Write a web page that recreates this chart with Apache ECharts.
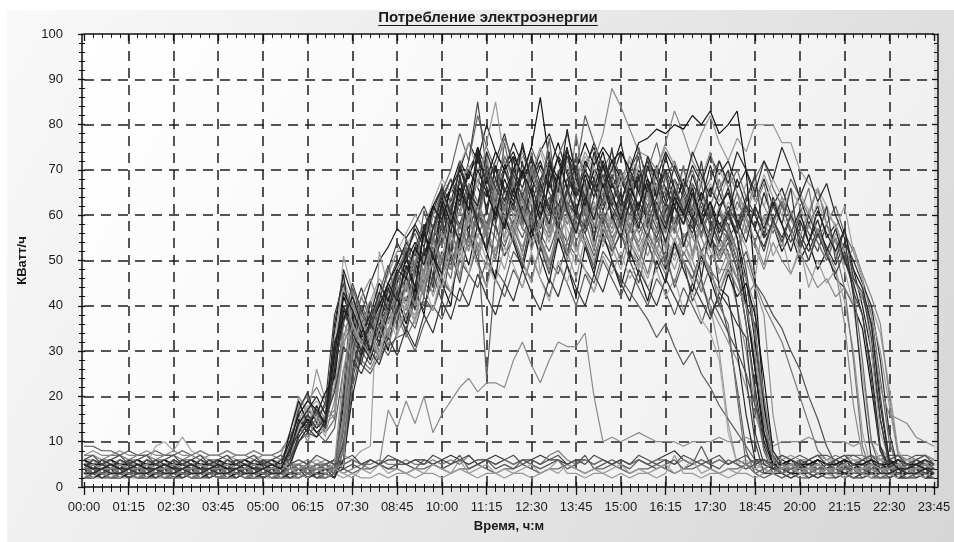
<!DOCTYPE html>
<html><head><meta charset="utf-8">
<script src="https://cdn.jsdelivr.net/npm/echarts/dist/echarts.min.js"></script>
<style>html,body{margin:0;padding:0;background:#fff}#c{width:954px;height:542px}</style>
</head><body><div id="c"></div>
<script>
const chartTitle = 'Потребление электроэнергии';
const xName = 'Время, ч:м';
const yName = 'КВатт/ч';
const timeLabels = ['00:00','00:15','00:30','00:45','01:00','01:15','01:30','01:45','02:00','02:15','02:30','02:45',
'03:00','03:15','03:30','03:45','04:00','04:15','04:30','04:45','05:00','05:15','05:30','05:45',
'06:00','06:15','06:30','06:45','07:00','07:15','07:30','07:45','08:00','08:15','08:30','08:45',
'09:00','09:15','09:30','09:45','10:00','10:15','10:30','10:45','11:00','11:15','11:30','11:45',
'12:00','12:15','12:30','12:45','13:00','13:15','13:30','13:45','14:00','14:15','14:30','14:45',
'15:00','15:15','15:30','15:45','16:00','16:15','16:30','16:45','17:00','17:15','17:30','17:45',
'18:00','18:15','18:30','18:45','19:00','19:15','19:30','19:45','20:00','20:15','20:30','20:45',
'21:00','21:15','21:30','21:45','22:00','22:15','22:30','22:45','23:00','23:15','23:30','23:45'];
const yMin = 0, yMax = 100, yStep = 10;

const s01 = [5,4,5,4,4,5,4,5,4,4,5,4, 4,5,4,4,5,4,4,5,4,4,5,6, 14,17,15,13,30,42,38,33,36,40,44,47, 44,48,52,55,60,58,64,70,66,62,68,72, 65,70,63,68,72,66,61,69,64,70,67,62, 68,63,70,65,60,66,62,58,64,60,55,52, 55,48,36,22,9,4,3,4,3,4,3,4, 4,3,4,3,4,5,4,3,4,4,3,4];
const s02 = [3,3,4,3,3,4,3,3,4,3,3,4, 3,4,3,3,4,3,3,4,3,3,4,3, 3,4,3,4,3,14,30,40,36,34,38,45, 50,47,56,62,58,66,72,68,75,70,64,71, 74,68,72,65,70,76,69,64,72,68,74,66, 70,64,68,72,66,70,62,68,64,60,66,62, 65,58,62,60,55,58,52,56,50,54,48,52, 46,44,40,35,22,8,4,3,4,3,4,3];
const s03 = [6,6,5,6,7,6,6,5,6,6,5,6, 6,5,6,6,5,6,6,5,6,6,5,9, 18,20,16,15,22,44,40,35,32,38,42,40, 42,40,47,52,49,55,61,57,63,68,60,65, 60,66,58,62,70,64,58,61,67,60,63,58, 64,59,62,66,58,62,57,60,55,58,52,48, 48,40,30,18,8,5,5,6,5,5,6,5, 6,5,6,5,6,5,5,6,5,6,5,6];
const s04 = [2,3,2,2,3,2,3,2,2,3,2,2, 3,2,2,3,2,2,3,2,2,3,2,2, 2,3,2,3,2,8,24,31,35,30,34,38, 35,41,45,43,50,48,55,60,57,53,61,58, 63,57,55,60,64,58,52,59,62,56,60,55, 58,62,56,60,54,58,62,55,58,52,56,50, 54,48,52,45,42,38,35,30,26,20,15,9, 5,3,2,3,2,2,3,2,2,3,2,2];
const s05 = [4,5,4,4,5,4,5,4,4,5,4,4, 5,4,4,5,4,4,5,4,4,5,4,7, 12,15,13,16,34,48,42,38,45,50,53,57, 55,58,54,62,66,63,70,76,72,80,74,70, 76,71,68,74,78,72,66,73,70,76,71,68, 74,70,66,72,68,74,70,65,71,67,73,69, 72,66,70,63,68,62,66,60,64,58,62,55, 58,52,48,40,30,15,5,4,5,4,4,5];
const s06 = [5,4,5,5,4,5,5,4,5,5,4,5, 5,4,5,5,4,5,5,4,5,5,4,5, 5,4,5,4,6,12,28,35,30,28,33,37, 40,38,44,49,46,53,58,55,50,57,62,59, 55,60,64,58,54,61,57,52,59,63,56,60, 55,58,52,56,60,54,50,55,48,44,40,30, 14,5,4,5,4,5,4,5,5,4,5,4, 5,4,5,4,5,5,4,5,4,5,5,4];
const s07 = [3,4,3,3,4,3,4,3,3,4,3,3, 4,3,3,4,3,3,4,3,3,4,3,5, 10,12,11,13,25,38,35,32,30,34,37,40, 38,42,40,46,52,49,56,54,60,58,64,61, 58,65,62,57,63,68,60,56,62,66,59,63, 60,64,58,62,67,60,56,63,59,65,60,57, 62,58,64,60,56,62,58,54,60,56,52,58, 54,50,46,42,36,20,6,4,3,4,3,4];
const s08 = [4,3,4,4,3,4,4,3,4,4,3,4, 4,3,4,4,3,4,4,3,4,4,3,4, 4,3,4,3,4,20,38,44,38,33,38,42, 48,52,57,60,64,68,62,70,74,67,72,78, 70,74,68,72,66,73,70,64,71,75,68,72, 66,70,74,68,64,70,66,61,67,63,58,60, 58,52,40,26,12,4,4,3,4,4,3,4, 3,4,4,3,4,3,4,4,3,4,3,4];
const s09 = [7,7,6,7,7,6,7,7,6,7,7,6, 7,6,7,7,6,7,7,6,7,7,6,10, 16,19,22,18,15,32,36,28,26,30,35,38, 33,37,41,39,45,43,50,47,53,56,51,58, 54,50,57,53,48,55,51,57,53,49,55,52, 56,52,49,55,51,47,53,50,46,52,48,45, 50,46,42,45,40,36,32,26,20,14,8,6, 7,6,7,7,6,7,6,7,7,6,7,6];
const s10 = [3,2,3,3,2,3,3,2,3,3,2,3, 3,2,3,3,2,3,3,2,3,3,2,3, 3,2,3,2,3,10,30,40,36,42,47,52, 52,56,50,60,65,70,78,72,82,75,70,77, 72,68,75,70,66,73,78,70,82,76,70,74, 68,72,66,70,76,68,72,66,70,64,68,72, 66,70,64,68,72,66,62,68,64,60,66,58, 62,56,52,46,38,24,10,4,3,3,2,3];
const s11 = [2,3,3,2,3,3,2,3,3,2,3,3, 2,3,3,2,3,3,2,3,3,2,3,4, 11,14,12,10,13,26,30,27,25,29,31,33, 34,30,36,40,37,43,41,47,44,50,46,42, 48,44,51,46,42,49,45,40,47,43,50,46, 42,48,44,40,46,43,38,44,40,36,42,38, 34,22,8,3,2,3,3,2,3,3,2,3, 3,2,3,3,2,3,3,2,3,3,2,3];
const s12 = [5,6,5,5,6,5,6,5,5,6,5,5, 6,5,5,6,5,5,6,5,5,6,5,5, 6,5,6,5,6,7,6,8,9,52,44,40, 44,41,48,54,51,58,55,62,59,66,63,60, 66,62,58,65,61,67,63,59,65,61,68,64, 60,66,62,58,64,60,66,62,58,64,61,57, 63,60,56,62,58,64,60,56,52,58,54,50, 56,52,48,44,40,34,22,8,5,6,5,5];
const s13 = [5,5,4,5,5,4,5,5,4,5,5,4, 5,4,5,5,4,5,5,4,5,5,4,6, 15,13,17,14,28,40,36,32,30,34,39,43, 46,43,51,55,58,62,66,60,68,64,70,66, 62,69,65,71,67,62,68,64,70,66,61,67, 63,69,65,60,66,62,68,64,59,65,61,58, 60,55,46,32,16,6,4,5,4,5,5,4, 5,4,5,5,4,5,5,4,5,5,4,5];
const s14 = [4,4,5,4,4,5,4,4,5,4,4,5, 4,4,5,4,4,5,4,4,5,4,4,5, 4,5,4,5,4,15,34,42,46,40,44,48, 52,49,55,58,53,60,57,63,60,56,62,59, 55,61,57,63,59,54,60,56,62,58,53,59, 55,60,56,51,57,53,48,54,50,45,40,36, 32,28,22,16,10,6,4,5,4,4,5,4, 4,5,4,4,5,4,4,5,4,4,5,4];
const s15 = [3,4,3,3,4,3,4,3,3,4,3,3, 4,3,3,4,3,3,4,3,3,4,3,3, 4,3,4,3,4,3,4,5,4,5,17,13, 19,14,20,12,16,19,22,24,21,23,23,22, 28,32,27,23,28,32,31,31,34,20,10,11, 10,11,12,11,10,10,10,9,10,10,10,11, 10,10,11,10,10,9,10,10,10,11,10,10, 10,10,9,10,10,9,6,4,3,4,3,4];
const s16 = [4,4,3,4,4,3,4,4,3,4,4,3, 4,4,3,4,4,3,4,4,3,4,4,3, 4,3,4,4,5,4,3,4,4,5,4,4, 3,4,4,5,4,3,4,4,5,4,3,4, 4,5,4,3,4,4,5,4,3,4,4,5, 4,3,4,4,5,4,3,4,4,5,4,3, 4,4,5,4,3,4,4,5,4,3,4,4, 5,4,3,4,4,5,4,3,4,4,3,4];
const s17 = [2,2,3,2,2,3,2,2,3,2,2,3, 2,2,3,2,2,3,2,2,3,2,2,3, 3,4,5,5,6,5,6,5,6,5,6,6, 5,6,6,5,6,7,6,5,6,6,7,6, 5,6,6,7,6,6,5,6,6,5,6,5, 6,5,6,5,6,7,8,6,5,6,5,6, 5,6,5,6,5,6,5,5,6,5,6,5, 5,6,5,4,3,2,3,2,2,3,2,2];
const s18 = [2,2,2,3,2,2,2,3,2,2,2,3, 2,2,3,2,2,2,3,2,2,2,3,2, 2,3,2,2,3,2,3,2,2,3,2,3, 3,2,3,3,2,3,6,3,2,3,3,2, 3,3,2,3,4,6,3,3,2,3,3,2, 3,2,3,3,2,3,7,3,3,2,3,3, 2,3,3,2,3,3,2,3,3,2,3,3, 2,3,2,2,3,2,2,3,2,2,3,2];
const s19 = [9,9,8,8,7,8,7,7,8,7,7,8, 7,8,7,7,8,7,7,8,7,7,8,11, 16,13,15,18,32,39,34,30,33,37,41,39, 45,42,48,53,50,56,52,59,55,61,57,53, 59,55,61,56,52,58,54,60,56,51,57,53, 59,54,50,56,52,48,54,50,46,52,47,43, 48,44,40,36,14,6,7,6,7,6,7,7, 6,7,7,6,7,6,7,7,6,7,7,6];
const s20 = [6,5,6,6,5,6,6,5,9,10,8,11, 8,7,6,6,5,6,6,5,6,6,5,8, 20,17,19,16,28,51,43,36,40,45,42,47, 45,50,47,55,60,57,64,61,68,73,65,70, 67,63,70,74,68,64,71,67,73,69,64,70, 66,72,68,63,69,65,71,67,62,68,64,70, 66,61,67,63,69,64,60,66,62,57,63,58, 54,48,40,25,10,6,5,6,6,5,6,5];
const s21 = [4,5,5,4,5,5,4,5,5,4,5,5, 4,5,5,4,5,5,4,5,5,4,5,8, 17,14,18,15,28,40,35,30,33,38,36,42, 39,45,43,50,47,54,58,52,60,56,63,58, 62,57,64,59,55,62,58,64,60,55,61,57, 63,58,54,60,56,62,57,53,59,55,50,54, 50,46,40,28,14,6,5,5,4,5,5,4, 5,5,4,5,5,4,5,5,4,5,5,4];
const s22 = [3,3,2,3,3,2,3,3,2,3,3,2, 3,3,2,3,3,2,3,3,2,3,3,2, 3,2,3,3,2,12,30,36,31,29,34,40, 44,48,45,52,56,61,57,65,62,68,63,70, 66,61,67,72,65,60,66,71,64,68,62,67, 63,68,60,65,70,63,58,64,60,56,61,55, 52,40,24,10,3,3,3,2,3,3,2,3, 3,3,2,3,3,2,3,3,2,3,3,2];
const s23 = [6,7,6,6,7,6,6,7,6,6,7,6, 6,7,6,6,7,6,6,7,6,6,7,12, 20,16,26,19,22,34,31,28,32,30,35,39, 36,42,47,44,51,48,55,60,53,58,55,62, 57,63,59,54,61,57,65,60,56,62,58,54, 60,56,61,57,52,58,54,60,55,51,57,53, 56,50,46,40,20,7,6,7,6,6,7,6, 6,7,6,6,7,6,6,7,6,6,7,6];
const s24 = [5,4,4,5,4,4,5,4,4,5,4,4, 5,4,4,5,4,4,5,4,4,5,4,4, 5,4,4,5,4,18,38,33,36,41,38,45, 50,54,51,57,62,66,63,69,73,67,71,65, 70,75,68,64,71,67,73,69,63,70,66,72, 68,63,69,65,71,66,62,68,64,59,63,58, 56,50,40,26,10,5,4,4,5,4,4,5, 4,4,5,4,4,5,4,4,5,4,4,5];
const s25 = [3,4,4,3,4,4,3,4,4,3,4,4, 3,4,4,3,4,4,3,4,4,3,4,6, 13,11,14,12,15,38,42,37,34,39,43,48, 52,49,55,60,57,64,61,67,63,58,65,61, 67,63,58,64,60,66,62,57,63,59,65,61, 57,63,59,65,61,56,62,58,64,60,55,61, 57,63,59,54,60,56,62,57,53,58,54,50, 55,50,44,28,10,4,3,4,4,3,4,4];
const s26 = [4,3,3,4,3,3,4,3,3,4,3,3, 4,3,3,4,3,3,4,3,3,4,3,3, 4,3,3,4,3,4,26,34,30,36,40,44, 41,47,52,49,55,61,58,64,60,57,63,60, 56,62,59,65,61,57,63,60,56,62,58,64, 61,57,63,59,55,61,64,60,56,62,58,54, 60,56,61,57,53,59,55,60,56,52,57,53, 49,54,50,45,40,28,12,4,3,4,3,3];
const s27 = [5,5,6,5,5,6,5,5,6,5,5,6, 5,5,6,5,5,6,5,5,6,5,5,7, 15,18,14,16,24,46,40,35,38,42,47,52, 56,60,57,63,68,65,71,76,70,74,68,72, 69,74,70,66,72,68,74,70,65,71,67,63, 69,65,71,67,62,68,64,70,66,61,67,63, 69,65,60,66,62,68,64,59,65,61,66,62, 57,62,52,46,30,12,6,5,6,5,5,6];
const s28 = [2,2,3,2,2,3,2,2,3,2,2,3, 2,2,3,2,2,3,2,2,3,2,2,3, 2,3,2,2,3,6,22,30,27,32,29,34, 38,35,42,39,46,43,50,47,54,24,48,45, 52,49,46,53,50,47,54,51,48,45,52,49, 46,43,40,37,33,36,31,27,30,25,22,18, 15,12,9,6,4,3,2,3,2,2,3,2, 2,3,2,2,3,2,2,3,2,2,3,2];
const s29 = [7,8,7,7,8,7,7,8,7,7,8,7, 7,8,7,7,8,7,7,8,7,7,8,10, 14,16,13,15,17,36,33,29,35,38,34,40, 44,40,46,51,48,54,50,56,52,58,55,51, 57,53,59,55,50,56,52,58,54,49,55,51, 57,53,58,54,49,55,51,56,52,58,54,50, 56,52,57,53,48,54,50,47,52,48,44,46, 42,44,40,42,35,22,16,15,14,11,10,9];
const s30 = [5,5,4,5,5,4,5,5,4,5,5,4, 5,4,5,5,4,5,5,4,5,5,4,5, 5,4,5,5,4,5,6,5,5,6,5,5, 6,5,5,6,5,6,5,7,5,6,5,6, 5,6,6,5,7,8,6,5,6,5,6,5, 6,5,6,5,6,6,5,6,5,6,5,6, 5,6,5,6,5,6,5,6,5,5,6,5, 5,6,5,5,6,5,5,4,5,5,4,5];
const s31 = [4,4,3,4,4,3,4,4,3,4,4,3, 4,4,3,4,4,3,4,4,3,4,4,3, 4,4,3,4,4,10,34,39,35,40,45,50, 47,53,58,55,63,68,64,72,85,70,66,73, 69,64,71,66,62,68,73,66,61,67,63,69, 64,60,66,62,57,63,59,65,60,56,62,57, 55,58,48,34,18,6,3,4,4,3,4,4, 3,4,4,3,4,4,3,4,4,3,4,4];
const s32 = [6,5,5,6,5,5,6,5,5,6,5,5, 6,5,5,6,5,5,6,5,5,6,5,9, 18,15,17,14,16,30,44,38,41,46,43,49, 53,57,54,60,64,61,67,71,66,76,85,72, 68,73,69,75,70,66,72,68,74,70,65,71, 67,73,69,64,70,75,71,67,73,78,82,76, 72,77,74,80,80,80,76,76,70,67,65,60, 58,52,46,42,38,30,18,7,5,6,5,5];
const s33 = [5,6,5,5,6,5,5,6,5,5,6,5, 5,6,5,5,6,5,5,6,5,5,6,5, 5,6,5,6,5,14,28,35,40,37,43,47, 44,50,55,52,58,63,60,66,62,69,65,61, 67,63,58,64,70,66,61,67,63,72,78,88, 84,79,74,73,70,76,83,78,72,68,74,66, 70,65,61,67,62,58,64,59,55,61,56,52, 48,36,18,7,5,6,5,5,6,5,5,6];
const s34 = [3,3,4,3,3,4,3,3,4,3,3,4, 3,3,4,3,3,4,3,3,4,3,3,5, 12,15,12,14,26,42,37,33,36,40,45,49, 54,51,57,62,59,66,70,65,72,68,74,70, 73,69,75,86,72,68,74,70,76,71,75,72, 74,70,76,77,79,78,80,79,82,80,83,78, 80,83,70,45,18,5,4,3,3,4,3,3, 4,3,3,4,3,3,4,3,3,4,3,3];
const s35 = [4,6,5,4,6,5,4,6,5,4,6,5, 4,6,5,4,6,5,4,6,5,4,6,7, 15,12,18,13,36,47,33,29,41,35,44,38, 52,41,58,46,63,51,69,55,74,60,71,57, 73,58,66,52,70,56,75,61,68,54,72,59, 65,50,69,57,62,48,66,53,60,46,58,44, 42,30,16,6,6,5,4,6,5,4,6,5, 4,6,5,4,6,5,4,6,5,4,6,5];
const s36 = [3,5,4,3,5,4,3,5,4,3,5,4, 3,5,4,3,5,4,3,5,4,3,5,4, 3,5,4,3,5,16,41,35,28,39,33,45, 37,49,42,56,47,61,53,67,58,72,64,55, 68,60,74,63,57,70,62,78,66,59,71,64, 58,69,61,73,65,56,68,60,64,55,62,51, 57,50,46,34,20,7,3,5,4,3,5,4, 3,5,4,3,5,4,3,5,4,3,5,4];
const s37 = [5,3,4,5,3,4,5,3,4,5,3,4, 5,3,4,5,3,4,5,3,4,5,3,9, 17,21,14,19,38,45,31,27,37,31,42,36, 47,39,53,44,59,50,65,57,62,70,58,66, 61,72,56,67,74,59,65,71,57,68,63,75, 60,67,73,58,64,70,56,66,61,72,59,65, 70,57,63,69,55,64,58,66,52,60,55,62, 50,57,46,43,33,15,5,3,4,5,3,4];
const s38 = [2,4,3,2,4,3,2,4,3,2,4,3, 2,4,3,2,4,3,2,4,3,2,4,3, 2,4,3,2,4,11,27,38,33,29,40,34, 45,36,51,42,48,57,46,62,53,48,66,55, 60,51,64,47,58,68,54,49,62,57,69,52, 63,55,48,61,67,52,59,64,50,58,54,62, 49,57,53,46,60,51,55,47,53,44,50,45, 48,41,30,12,4,3,2,4,3,2,4,3];
const s39 = [6,4,5,6,4,5,6,4,5,6,4,5, 6,4,5,6,4,5,6,4,5,6,4,12, 19,14,16,21,24,39,37,32,28,36,30,42, 36,44,38,51,45,40,55,49,58,52,46,60, 54,48,57,51,45,55,49,42,53,47,56,50, 44,52,47,41,50,45,54,48,43,51,46,40, 47,42,45,38,24,8,5,6,4,5,6,4, 5,6,4,5,6,4,5,6,4,5,6,4];
const s40 = [4,3,5,4,3,5,4,3,5,4,3,5, 4,3,5,4,3,5,4,3,5,4,3,5, 4,3,5,4,3,22,44,38,35,43,49,41, 55,48,61,54,67,59,72,64,57,70,62,76, 66,59,71,64,77,61,68,73,60,66,72,63, 70,62,75,66,59,69,63,71,60,67,57,61, 55,48,36,20,8,3,5,4,3,5,4,3, 5,4,3,5,4,3,5,4,3,5,4,3];
const s41 = [3,5,6,3,5,6,3,5,6,3,5,6, 3,5,6,3,5,6,3,5,6,3,5,6, 14,10,16,12,19,33,40,30,34,28,38,44, 40,47,43,50,56,48,53,60,51,57,63,54, 58,64,52,59,55,62,50,57,63,53,60,56, 61,54,58,65,52,60,56,63,51,59,55,62, 57,52,60,54,49,58,53,61,55,50,57,52, 55,49,53,47,42,36,20,7,4,5,6,3];
const s42 = [3,4,2,3,4,2,3,4,2,3,4,2, 3,4,2,3,4,2,3,4,2,3,4,2, 3,4,2,3,4,9,25,33,29,36,31,40, 34,43,39,47,41,52,45,56,50,44,58,51, 55,49,60,53,47,57,51,62,54,48,59,52, 56,50,45,54,48,52,44,50,41,46,38,42, 34,30,25,18,12,7,4,3,4,2,3,4, 2,3,4,2,3,4,2,3,4,2,3,4];
const s43 = [5,6,4,5,6,4,5,6,4,5,6,4, 5,6,4,5,6,4,5,6,4,5,6,5, 13,18,15,11,33,44,36,31,35,29,37,33, 41,36,45,39,48,43,52,47,56,50,45,53, 49,44,52,46,41,50,45,53,48,43,51,47, 52,46,50,44,48,42,46,39,43,37,34,28, 12,5,6,4,5,6,4,5,6,4,5,6, 4,5,6,4,5,6,4,5,6,4,5,6];
const s44 = [4,2,3,4,2,3,4,2,3,4,2,3, 4,2,3,4,2,3,4,2,3,4,2,3, 4,2,3,4,2,6,20,29,36,32,38,47, 51,44,57,50,63,56,68,61,75,66,59,70, 64,76,67,60,72,65,79,68,62,74,66,70, 76,67,61,71,64,73,66,60,69,63,71,65, 60,68,62,57,65,59,63,56,61,54,59,52, 57,50,45,38,26,9,4,2,3,4,2,3];
const s45 = [4,5,3,4,5,3,4,5,3,4,5,3, 4,5,3,4,5,3,4,5,3,4,5,3, 4,5,4,5,6,4,5,4,6,5,4,5, 5,4,6,5,4,5,7,4,5,6,4,5, 4,6,5,4,5,6,4,5,7,4,5,6, 5,4,6,5,4,5,6,4,5,9,5,4, 6,5,4,5,6,4,5,4,6,5,4,5, 4,5,3,4,5,3,4,5,3,4,5,3];
const s46 = [3,2,4,3,2,4,3,2,4,3,2,4, 3,2,4,3,2,4,3,2,4,3,2,4, 3,2,4,3,4,3,2,4,3,5,3,4, 3,4,3,5,4,3,4,3,4,5,3,4, 3,4,5,3,4,3,5,4,3,4,3,4, 5,3,4,3,4,5,3,4,6,3,4,3, 4,3,5,3,4,3,4,5,3,4,3,4, 3,2,4,3,2,4,3,2,4,3,2,4];
const s47 = [5,4,6,5,4,6,5,4,6,5,4,6, 5,4,6,5,4,6,5,4,6,5,4,8, 12,16,13,15,21,31,28,25,30,27,33,29, 35,31,38,34,41,37,44,40,47,42,38,45, 41,48,43,39,46,42,49,44,40,47,43,50, 45,41,48,44,40,46,42,38,45,41,37,43, 40,36,33,12,5,4,6,5,4,6,5,4, 6,5,4,6,5,4,6,5,4,6,5,4];
const s48 = [2,3,3,2,3,3,2,3,3,2,3,3, 2,3,3,2,3,3,2,3,3,2,3,3, 2,3,3,2,3,13,35,42,37,33,41,46, 43,52,47,58,53,62,57,66,60,55,68,61, 65,58,70,62,56,67,60,64,71,57,63,68, 62,57,66,60,70,58,64,61,67,55,62,68, 59,65,57,62,67,58,63,56,60,66,55,58, 52,44,28,9,3,2,3,3,2,3,3,2];
const s49 = [6,5,5,6,5,5,6,5,5,6,5,5, 6,5,5,6,5,5,6,5,5,6,5,10, 16,19,17,14,29,43,39,34,38,45,41,48, 46,53,49,57,64,58,66,61,70,65,60,68, 63,70,65,59,67,73,66,60,69,64,71,65, 59,66,62,68,61,57,64,60,66,58,63,56, 61,55,42,26,12,5,5,6,5,5,6,5, 5,6,5,5,6,5,5,6,5,5,6,5];
const s50 = [3,4,4,3,4,4,3,4,4,3,4,4, 3,4,4,3,4,4,3,4,4,3,4,4, 3,4,4,3,4,5,31,37,32,38,34,41, 45,40,48,54,49,56,51,59,63,57,52,60, 56,61,54,58,63,55,60,52,57,62,54,59, 55,60,53,57,62,54,58,51,56,49,54,47, 52,46,50,44,38,16,5,4,3,4,4,3, 4,4,3,4,4,3,4,4,3,4,4,3];
const s51 = [4,6,5,4,6,5,4,6,5,4,6,5, 4,6,5,4,6,5,4,6,5,4,6,6, 11,14,17,13,27,36,45,39,35,41,48,54, 50,58,62,57,65,61,68,64,59,71,66,62, 69,64,60,67,62,58,66,61,57,64,69,62, 58,65,60,55,63,58,66,61,57,63,59,54, 61,56,62,57,52,59,54,60,55,50,56,51, 47,52,43,38,24,8,4,6,5,4,6,5];
const s52 = [5,3,4,5,3,4,5,3,4,5,3,4, 5,3,4,5,3,4,5,3,4,5,3,4, 5,3,4,5,3,8,29,36,41,35,39,46, 53,47,42,55,50,46,58,53,62,56,50,64, 57,52,60,55,49,58,63,54,59,52,61,55, 50,57,53,47,55,50,45,52,48,43,49,40, 36,20,5,3,4,5,3,4,5,3,4,5, 3,4,5,3,4,5,3,4,5,3,4,5];
const s53 = [3,3,4,3,3,4,3,3,4,3,3,4, 3,3,4,3,3,4,3,3,4,3,3,5, 10,13,11,15,31,40,34,30,37,43,39,47, 51,57,53,61,66,60,71,65,62,74,68,63, 70,66,73,67,61,69,75,64,70,66,72,67, 62,70,65,73,68,63,71,66,74,69,64,72, 67,74,70,65,72,68,75,70,64,69,63,67, 60,55,42,22,6,3,3,4,3,3,4,3];
const s54 = [4,5,4,4,5,4,4,5,4,4,5,4, 4,5,4,4,5,4,4,5,4,4,5,4, 4,5,4,4,5,26,36,32,29,35,31,38, 42,37,45,50,44,52,47,55,49,44,53,48, 56,50,45,54,49,57,52,46,55,50,58,53, 48,55,51,46,53,49,55,50,45,52,47,43, 49,44,40,30,16,6,4,5,4,4,5,4, 4,5,4,4,5,4,4,5,4,4,5,4];
const s55 = [6,7,5,6,7,5,6,7,5,6,7,5, 6,7,5,6,7,5,6,7,5,6,7,5, 6,5,7,6,5,6,7,5,6,5,7,6, 5,6,5,7,6,5,6,7,5,6,5,6, 7,5,6,5,6,7,5,6,5,7,6,5, 6,5,7,6,5,6,5,7,6,5,6,7, 5,6,7,5,6,5,7,6,5,6,7,5, 6,7,5,6,7,5,6,7,5,6,7,5];
const s56 = [5,4,4,5,4,4,5,4,4,5,4,4, 5,4,4,5,4,4,5,4,4,5,4,8, 14,17,20,16,32,37,42,36,30,38,45,41, 49,44,56,51,47,59,54,65,58,52,62,57, 66,60,55,63,58,69,61,56,64,59,67,60, 55,63,57,67,60,54,62,58,65,59,53,61, 66,59,54,62,57,63,58,52,59,54,61,56, 52,57,48,44,36,18,6,4,4,5,4,4];

const allSeries = [s01,s02,s03,s04,s05,s06,s07,s08,s09,s10,s11,s12,s13,s14,s15,s16,s17,s18,s19,s20,
  s21,s22,s23,s24,s25,s26,s27,s28,s29,s30,s31,s32,s33,s34,s35,s36,s37,s38,s39,s40,
  s41,s42,s43,s44,s45,s46,s47,s48,s49,s50,s51,s52,s53,s54,s55,s56];
const lineColors = ['#2a2a2a','#111111','#8c8c8c','#505050','#202020','#9a9a9a','#444444','#333333','#777777','#666666',
  '#5a5a5a','#a0a0a0','#1a1a1a','#909090','#8a8a8a','#666666','#333333','#999999','#555555','#a5a5a5',
  '#7a7a7a','#3a3a3a','#959595','#1c1c1c','#6b6b6b','#2e2e2e','#a3a3a3','#5c5c5c','#888888','#7a7a7a',
  '#4a4a4a','#999999','#8a8a8a','#111111','#262626','#7f7f7f','#3c3c3c','#9c9c9c','#141414','#606060',
  '#858585','#484848','#a8a8a8','#222222','#575757','#9e9e9e','#363636','#737373','#181818','#8f8f8f',
  '#404040','#6e6e6e','#2b2b2b','#969696','#4f4f4f','#1f1f1f'];

const FONT = '"Liberation Sans", Arial, sans-serif';
const chart = echarts.init(document.getElementById('c'), null, {renderer:'canvas', width:954, height:542});

const ink = '#111';
const dash = {type:[10,7], color:'#1e1e1e', width:1.5};
const xBase = {type:'value', min:0, max:timeLabels.length-1, interval:5, gridIndex:0};
const yBase = {type:'value', min:yMin, max:yMax, interval:yStep, gridIndex:0};

const mc = document.createElement('canvas').getContext('2d');
const titleFont = 'bold 15px ' + FONT;
mc.font = titleFont;
const tw = mc.measureText(chartTitle).width;
const tcx = 488;

const series = allSeries.map((arr, k) => ({
  type:'line', xAxisIndex:0, yAxisIndex:0,
  data: arr.map((v, i) => [i, v]),
  symbol:'none', showSymbol:false, silent:true, animation:false,
  lineStyle:{width:1.2, color:lineColors[k % lineColors.length]},
  z:3
}));

chart.setOption({
  animation:false,
  backgroundColor:'#ffffff',
  grid:{left:84, right:20, top:34, bottom:55, show:true, borderWidth:0,
    backgroundColor:{type:'linear', x:0, y:0, x2:1, y2:1, colorStops:[{offset:0,color:'#ffffff'},{offset:1,color:'#ededed'}]},
    outerBoundsMode:'none', containLabel:false},
  graphic:[
    {type:'rect', z:-1, silent:true, shape:{x:7, y:10, width:947, height:532},
      style:{fill:{type:'linear', x:0, y:0, x2:1, y2:1, colorStops:[{offset:0,color:'#f9f9f9'},{offset:1,color:'#d6d6d6'}]}}},
    {type:'text', x:tcx, y:10, z:10, silent:true, style:{text:chartTitle, font:titleFont, fill:'#1a1a1a', textAlign:'center', textVerticalAlign:'top'}},
    {type:'line', z:10, silent:true, shape:{x1:tcx - tw/2, y1:25.5, x2:tcx + tw/2, y2:25.5}, style:{stroke:'#1a1a1a', lineWidth:1}}
  ],
  xAxis:[
    Object.assign({}, xBase, {position:'bottom',
      axisLine:{show:true, onZero:false, lineStyle:{color:ink, width:1.5}},
      axisTick:{show:true, inside:false, length:8, lineStyle:{color:ink, width:1.3}},
      minorTick:{show:true, splitNumber:5, length:5, lineStyle:{color:ink, width:1}},
      axisLabel:{show:true, margin:14, fontSize:13, fontFamily:FONT, color:'#1a1a1a', formatter:(v)=>timeLabels[v] || ''},
      splitLine:{show:true, showMinLine:false, showMaxLine:false, lineStyle:dash},
      minorSplitLine:{show:false},
      name:xName, nameLocation:'middle', nameGap:33,
      nameTextStyle:{fontWeight:'bold', fontSize:13, fontFamily:FONT, color:'#1a1a1a'}}),
    Object.assign({}, xBase, {position:'bottom',
      axisLine:{show:false, onZero:false},
      axisTick:{show:true, inside:true, length:5, lineStyle:{color:ink, width:1.3}},
      minorTick:{show:true, splitNumber:5, length:3, lineStyle:{color:ink, width:1}},
      axisLabel:{show:false}, splitLine:{show:false}, minorSplitLine:{show:false}}),
    Object.assign({}, xBase, {position:'top',
      axisLine:{show:true, onZero:false, lineStyle:{color:ink, width:1.5}},
      axisTick:{show:true, inside:true, length:7, lineStyle:{color:ink, width:1.3}},
      minorTick:{show:true, splitNumber:5, length:4, lineStyle:{color:ink, width:1}},
      axisLabel:{show:false}, splitLine:{show:false}, minorSplitLine:{show:false}})
  ],
  yAxis:[
    Object.assign({}, yBase, {position:'left', offset:2,
      axisLine:{show:true, onZero:false, lineStyle:{color:ink, width:1.5}},
      axisTick:{show:true, inside:false, length:4, lineStyle:{color:ink, width:1.3}},
      minorTick:{show:true, splitNumber:5, length:3, lineStyle:{color:ink, width:1}},
      axisLabel:{show:true, margin:19, fontSize:13, fontFamily:FONT, color:'#1a1a1a'},
      splitLine:{show:true, showMinLine:false, showMaxLine:false, lineStyle:dash},
      minorSplitLine:{show:false},
      name:yName, nameLocation:'middle', nameGap:53, nameRotate:90,
      nameTextStyle:{fontWeight:'bold', fontSize:13, fontFamily:FONT, color:'#1a1a1a'}}),
    Object.assign({}, yBase, {position:'left', offset:2,
      axisLine:{show:false, onZero:false},
      axisTick:{show:true, inside:true, length:3, lineStyle:{color:ink, width:1.3}},
      minorTick:{show:true, splitNumber:5, length:3, lineStyle:{color:ink, width:1}},
      axisLabel:{show:false}, splitLine:{show:false}, minorSplitLine:{show:false}}),
    Object.assign({}, yBase, {position:'right', offset:4,
      axisLine:{show:true, onZero:false, lineStyle:{color:ink, width:1.5}},
      axisTick:{show:true, inside:true, length:6, lineStyle:{color:ink, width:1.3}},
      minorTick:{show:true, splitNumber:5, length:4, lineStyle:{color:ink, width:1}},
      axisLabel:{show:false}, splitLine:{show:false}, minorSplitLine:{show:false}})
  ],
  series: series
});
</script>
</body></html>
